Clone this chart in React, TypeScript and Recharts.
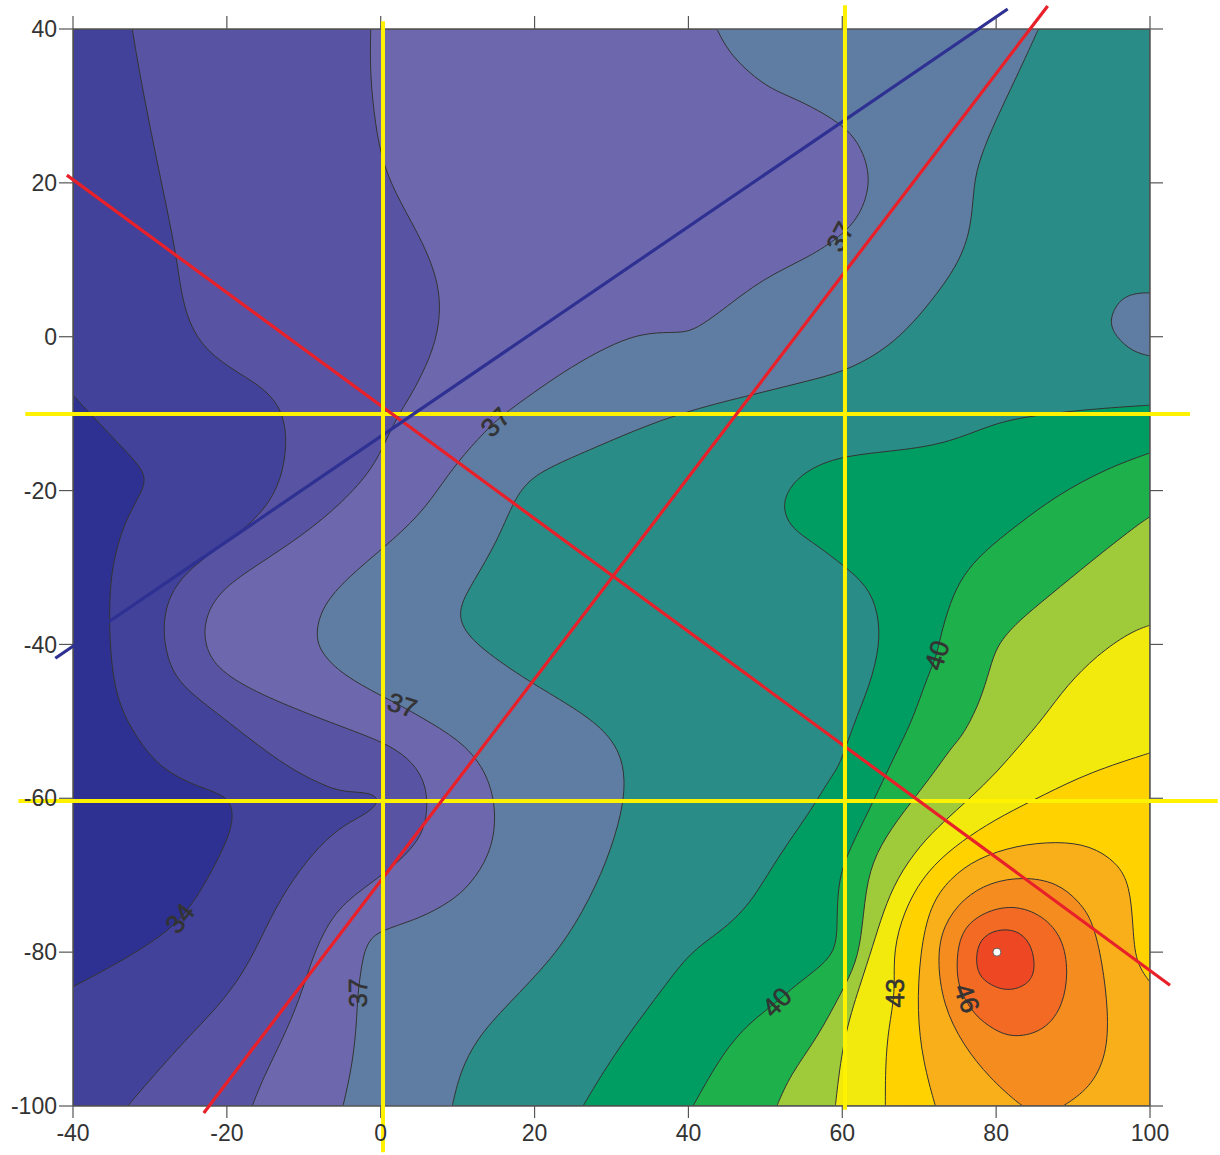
import { ScatterChart, Scatter, XAxis, YAxis, ReferenceLine } from "recharts";

type Pt = [number, number];

const FONT = "'Liberation Sans', Arial, Helvetica, sans-serif";

const xTicks = [-40, -20, 0, 20, 40, 60, 80, 100];
const yTicks = [40, 20, 0, -20, -40, -60, -80, -100];

// whole plot, painted with the 37-38 colour
const plotFrame: Pt[] = [[-40, 40], [100, 40], [100, -100], [-40, -100]];

// sub-level regions (value below the level), painted from 37 down to 34
const below37: Pt[] = [
	[43.7, 40], [45.4, 36.6], [49.7, 32.7], [53.2, 31.2], [55.8, 30.0], [59.7, 27.8], [62.3, 25.2],
	[63.9, 20.4], [62.3, 15.6], [59.7, 13.0], [55.8, 10.4], [49.7, 7.6], [44.1, 3.2], [41.1, 1.1],
	[39.3, 0.5], [35.9, 0.6], [32.4, 0.0], [28.1, -2.0], [23.7, -4.6], [19.4, -7.6], [16.8, -9.5],
	[14.6, -11.2], [10.7, -15.4], [8.1, -18.9], [5.1, -23.2], [0.3, -27.5], [-4.4, -31.4],
	[-7.5, -34.9], [-8.5, -38.4], [-7.9, -41.0], [-4.9, -44.0], [0.3, -46.8], [2.5, -47.9],
	[6.4, -50.1], [11.2, -53.1], [14.2, -57.4], [15.1, -62.6], [14.2, -67.4], [11.6, -71.3],
	[9.0, -73.5], [5.1, -75.6], [0.3, -77.1], [-1.4, -78.2], [-2.3, -80.4], [-2.7, -83.4],
	[-3.0, -85.6], [-3.1, -88.6], [-3.6, -94.3], [-4.9, -100], [-40, -100], [-40, 40],
];
const below36: Pt[] = [
	[-1.3, 40], [-1.4, 34.0], [-0.7, 27.5], [0.3, 22.3], [2.5, 17.5], [5.5, 12.3], [7.7, 6.7],
	[7.7, 1.5], [6.4, -2.8], [4.2, -7.2], [2.5, -9.8], [0.8, -13.2], [-1.0, -17.1], [-4.9, -21.5],
	[-10.1, -25.8], [-16.1, -29.7], [-20.5, -32.7], [-22.6, -35.8], [-23.1, -39.2], [-21.8, -42.7],
	[-17.4, -45.7], [-10.1, -48.8], [-3.1, -51.4], [1.2, -53.1], [4.2, -55.3], [6.0, -58.3],
	[6.1, -62.6], [4.7, -66.1], [0.3, -70.0], [-4.9, -73.5], [-7.5, -77.4], [-9.2, -81.7],
	[-10.5, -86.0], [-12.7, -91.2], [-15.3, -96.4], [-16.7, -100], [-40, -100], [-40, 40],
];
const below35: Pt[] = [
	[-32.3, 40], [-31.3, 34.0], [-29.6, 25.3], [-27.8, 16.7], [-26.5, 10.2], [-25.7, 3.7],
	[-23.5, -1.1], [-19.6, -4.1], [-15.7, -6.3], [-13.1, -8.9], [-12.1, -12.8], [-12.7, -18.0],
	[-14.8, -22.3], [-18.7, -25.8], [-24.4, -29.7], [-27.4, -33.2], [-28.4, -37.5], [-27.8, -41.8],
	[-26.1, -45.3], [-20.9, -49.2], [-12.7, -55.7], [-7.5, -58.3], [-4.9, -59.2], [-1.4, -59.2],
	[-0.1, -60.2], [-1.4, -61.8], [-4.9, -63.5], [-7.9, -66.1], [-11.4, -70.4], [-14.4, -75.6],
	[-17.0, -81.3], [-20.5, -86.5], [-26.1, -92.1], [-32.9, -100], [-40, -100], [-40, 40],
];
const below34: Pt[] = [
	[-40, -7.6], [-35.8, -12.1], [-31.7, -16.3], [-30.4, -18.4], [-31.3, -20.6], [-33.5, -24.5],
	[-34.9, -29.7], [-35.3, -34.5], [-35.2, -41.0], [-34.3, -47.5], [-31.7, -52.2], [-28.7, -56.1],
	[-23.9, -58.5], [-20.0, -59.6], [-19.1, -61.8], [-19.6, -64.8], [-22.2, -70.0], [-24.8, -74.3],
	[-27.8, -77.5], [-33.9, -81.3], [-40, -84.5],
];

// super-level regions (value at or above the level), painted from 38 up to 47
const above38: Pt[] = [
	[85.5, 40], [83.5, 35.6], [81.4, 31.2], [78.8, 25.6], [77.3, 21.3], [77.0, 17.8], [76.6, 13.5],
	[74.9, 9.1], [71.4, 4.4], [68.4, 0.9], [64.9, -2.1], [60.1, -4.6], [54.9, -5.9], [49.7, -7.2],
	[41.1, -9.3], [34.6, -11.5], [28.1, -14.3], [21.6, -17.1], [19.0, -18.9], [17.2, -21.5],
	[15.1, -26.7], [12.0, -31.9], [10.3, -34.9], [10.3, -37.5], [12.9, -40.5], [19.4, -44.9],
	[24.6, -47.9], [28.9, -50.9], [31.1, -54.0], [31.8, -57.4], [31.4, -61.8], [29.4, -68.3],
	[26.3, -74.8], [22.4, -80.8], [16.4, -86.9], [12.5, -91.2], [10.3, -95.6], [9.3, -100],
	[100, -100], [100, 40],
];
const islandBelow38: Pt[] = [
	[100, 5.7], [98.3, 5.7], [96.1, 5.0], [94.6, 2.2], [95.5, 0.0], [97.8, -2.0], [100, -2.5],
];
const above39: Pt[] = [
	[100, -8.9], [92.2, -9.4], [83.5, -10.4], [79.2, -11.5], [74.0, -13.7], [68.4, -14.7],
	[60.6, -15.4], [56.7, -16.7], [54.1, -18.4], [52.3, -21.0], [52.6, -23.6], [54.1, -25.4],
	[56.7, -27.1], [60.1, -29.7], [63.2, -32.3], [64.7, -35.8], [64.9, -40.1], [63.6, -45.3],
	[61.4, -50.5], [59.7, -55.7], [58.4, -57.4], [55.8, -61.8], [51.5, -67.8], [48.0, -73.9],
	[44.1, -77.4], [40.2, -80.0], [36.7, -84.7], [32.4, -90.4], [28.9, -95.6], [26.3, -100],
	[100, -100],
];
const above40: Pt[] = [
	[100, -15.1], [94.4, -17.1], [87.9, -20.6], [82.7, -24.5], [78.3, -28.0], [75.7, -31.0],
	[74.0, -34.5], [72.7, -39.2], [72.3, -41.4], [71.0, -44.4], [69.2, -49.6], [67.5, -53.1],
	[65.8, -56.6], [63.6, -61.3], [61.0, -66.5], [59.5, -70.4], [59.3, -75.6], [59.3, -80.0],
	[56.2, -82.6], [53.2, -84.9], [51.5, -86.5], [48.0, -89.1], [44.5, -93.0], [40.6, -100],
	[100, -100],
];
const above41: Pt[] = [
	[100, -23.4], [98.3, -24.5], [92.2, -29.3], [87.0, -33.6], [82.7, -37.1], [80.1, -40.1],
	[79.2, -43.1], [77.9, -47.5], [75.7, -51.8], [74.4, -53.1], [71.4, -57.4], [67.9, -61.8],
	[64.9, -66.1], [63.2, -70.4], [62.6, -76.9], [61.9, -81.3], [59.7, -85.6], [56.7, -91.2],
	[53.2, -96.0], [51.5, -100], [100, -100],
];
const above42: Pt[] = [
	[100, -37.5], [97.4, -38.4], [93.1, -41.4], [89.2, -45.3], [86.1, -49.6], [83.1, -53.1],
	[80.1, -56.6], [76.6, -60.0], [73.1, -63.1], [70.1, -66.1], [67.1, -70.4], [65.3, -74.8],
	[64.0, -79.1], [62.3, -84.3], [60.1, -91.2], [59.1, -100], [100, -100],
];
const above43: Pt[] = [
	[100, -54.1], [92.2, -56.6], [86.1, -59.6], [80.9, -62.2], [76.6, -64.8], [72.7, -67.8],
	[69.7, -71.3], [67.5, -76.1], [66.6, -80.8], [66.9, -85.3], [66.0, -89.9], [65.6, -94.7],
	[65.6, -100], [100, -100],
];
const above44: Pt[] = [
	[72.1, -100], [70.5, -94.3], [69.7, -87.8], [70.1, -80.0], [71.4, -73.9], [74.0, -70.4],
	[77.5, -67.8], [82.7, -66.1], [87.9, -65.6], [92.2, -66.1], [95.7, -68.3], [97.4, -71.3],
	[97.8, -76.9], [98.1, -81.3], [100, -83.9], [100, -100],
];
const above45: Pt[] = [
	[83.5, -100], [82.7, -99.5], [79.2, -96.4], [75.7, -92.1], [73.1, -86.9], [72.3, -80.8],
	[73.1, -76.5], [75.7, -73.0], [79.2, -70.9], [83.5, -70.2], [87.9, -70.9], [90.9, -73.5],
	[92.6, -76.1], [93.8, -81.3], [94.6, -87.8], [94.4, -93.4], [92.2, -97.7], [88.7, -100],
];
const above46: Pt[] = [
	[74.9, -83.4], [74.9, -80.0], [75.7, -76.9], [78.3, -74.8], [82.2, -73.8], [86.1, -75.2],
	[88.7, -78.2], [89.4, -82.6], [88.7, -86.9], [86.6, -89.9], [83.5, -91.0], [80.9, -90.8],
	[78.3, -89.1], [77.0, -87.8], [75.6, -85.6],
];
const above47: Pt[] = [
	[77.3, -80.8], [77.9, -78.2], [80.1, -77.0], [82.7, -77.1], [84.4, -78.7], [85.1, -81.3],
	[84.7, -83.9], [81.8, -85.2], [79.2, -84.3], [77.7, -83.0],
];

const peak: Pt[] = [[80.1, -80.0]];

// contour labels
const labelText = ["34", "37", "37", "37", "37", "40", "40", "43", "46"];
const labelAt: Pt[] = [
	[-26.1, -75.6], [14.9, -11.1], [59.7, 13.0], [2.8, -47.9], [-3.0, -85.3],
	[72.3, -41.4], [51.5, -86.5], [66.9, -85.3], [76.2, -86.0],
];
const labelAngle = [-52, -45, -62, 18, -90, -72, -45, -90, 70];

// straight profile lines
const yellowLines: Pt[][] = [
	[[-46.2, -10.05], [105.2, -10.05]],
	[[-47.1, -60.35], [108.8, -60.35]],
];
const yellowVerticals: Pt[][] = [
	[[0.3, 41], [0.3, -106]],
	[[60.35, 43.1], [60.35, -100.5]],
];
const redLines: Pt[][] = [
	[[-40.8, 21.0], [102.6, -84.3]],
	[[-23.0, -100.9], [86.7, 43.0]],
];
const blueLines: Pt[][] = [[[-42.3, -41.8], [81.5, 42.6]]];

const bands: { pts: Pt[]; fill: string; edge: string }[] = [
	{ pts: plotFrame, fill: "#5F7DA3", edge: "none" },
	{ pts: below37, fill: "#6D68AE", edge: "#333" },
	{ pts: below36, fill: "#5854A3", edge: "#333" },
	{ pts: below35, fill: "#42429A", edge: "#333" },
	{ pts: below34, fill: "#2E3191", edge: "#333" },
	{ pts: above38, fill: "#2A8C86", edge: "#333" },
	{ pts: islandBelow38, fill: "#5F7DA3", edge: "#333" },
	{ pts: above39, fill: "#009D62", edge: "#333" },
	{ pts: above40, fill: "#1EB04B", edge: "#333" },
	{ pts: above41, fill: "#9FCB3B", edge: "#333" },
	{ pts: above42, fill: "#F2E90D", edge: "#333" },
	{ pts: above43, fill: "#FFD200", edge: "#333" },
	{ pts: above44, fill: "#F8AF19", edge: "#333" },
	{ pts: above45, fill: "#F58C20", edge: "#333" },
	{ pts: above46, fill: "#F26A23", edge: "#333" },
	{ pts: above47, fill: "#EE4724", edge: "#333" },
];

// points on the plot border are repeated so the closed B-spline passes through them
const onBorder = ([x, y]: Pt) => x === -40 || x === 100 || y === 40 || y === -100;
const toXY = (pts: Pt[]) =>
	pts.flatMap((p) => (onBorder(p) ? [p, p, p] : [p])).map(([x, y]) => ({ x, y }));
const seg = (p: Pt[]) => p.map(([x, y]) => ({ x, y }));

const noDot = () => <g />;

const labels = labelAt.map(([x, y], i) => ({ x, y, text: labelText[i], angle: labelAngle[i] }));

const ContourLabel = (props: any) => {
	const { cx, cy, payload } = props;
	return (
		<text
			x={cx}
			y={cy}
			transform={`rotate(${payload.angle} ${cx} ${cy})`}
			textAnchor="middle"
			dominantBaseline="central"
			fontSize={26}
			fontFamily={FONT}
			fill="#333"
			stroke="#333"
			strokeWidth={0.6}
		>
			{payload.text}
		</text>
	);
};

const PeakDot = (props: any) => (
	<circle cx={props.cx} cy={props.cy} r={4} fill="#fff" stroke="#444" strokeWidth={0.8} />
);

const tickStyle = { fontSize: 23, fill: "#333", fontFamily: FONT };
const axisLine = { stroke: "#555", strokeWidth: 1.5 };
const tickLine = { stroke: "#555", strokeWidth: 1.2 };

export default function App() {
	return (
		<div style={{ position: "absolute", left: 0, top: 0 }}>
			<ScatterChart width={1220} height={1155} margin={{ top: 14, right: 50, bottom: 9, left: 13 }}>
				<XAxis
					type="number"
					dataKey="x"
					domain={[-40, 100]}
					ticks={xTicks}
					allowDataOverflow
					height={40}
					tickSize={12}
					tickMargin={7}
					tick={tickStyle}
					axisLine={axisLine}
					tickLine={tickLine}
					zIndex={650}
				/>
				<XAxis
					xAxisId="top"
					orientation="top"
					type="number"
					dataKey="x"
					domain={[-40, 100]}
					ticks={xTicks}
					allowDataOverflow
					height={15}
					tickSize={13}
					tickFormatter={() => ""}
					axisLine={axisLine}
					tickLine={tickLine}
					zIndex={650}
				/>
				<YAxis
					type="number"
					dataKey="y"
					domain={[-100, 40]}
					ticks={yTicks}
					allowDataOverflow
					width={60}
					tickSize={14}
					tickMargin={2}
					tick={tickStyle}
					axisLine={axisLine}
					tickLine={tickLine}
					zIndex={650}
				/>
				<YAxis
					yAxisId="right"
					orientation="right"
					type="number"
					dataKey="y"
					domain={[-100, 40]}
					ticks={yTicks}
					allowDataOverflow
					width={20}
					tickSize={13}
					tickFormatter={() => ""}
					axisLine={axisLine}
					tickLine={tickLine}
					zIndex={650}
				/>
				{bands.map((b, i) => (
					<Scatter
						key={i}
						data={toXY(b.pts)}
						line={{ fill: b.fill, stroke: b.edge, strokeWidth: 1 }}
						lineJointType="basisClosed"
						shape={noDot}
						isAnimationActive={false}
					/>
				))}
				<Scatter data={labels} shape={ContourLabel} isAnimationActive={false} zIndex={660} />
				<Scatter data={seg(peak)} shape={PeakDot} isAnimationActive={false} zIndex={660} />
				{yellowLines.map((s, i) => (
					<ReferenceLine key={"yh" + i} segment={seg(s)} stroke="#FFF200" strokeWidth={4} ifOverflow="visible" zIndex={700} />
				))}
				{redLines.map((s, i) => (
					<ReferenceLine key={"r" + i} segment={seg(s)} stroke="#E8202A" strokeWidth={3.2} ifOverflow="visible" zIndex={710} />
				))}
				{blueLines.map((s, i) => (
					<ReferenceLine key={"b" + i} segment={seg(s)} stroke="#2E3192" strokeWidth={3.2} ifOverflow="visible" zIndex={710} />
				))}
				{yellowVerticals.map((s, i) => (
					<ReferenceLine key={"yv" + i} segment={seg(s)} stroke="#FFF200" strokeWidth={4} ifOverflow="visible" zIndex={720} />
				))}
			</ScatterChart>
		</div>
	);
}
